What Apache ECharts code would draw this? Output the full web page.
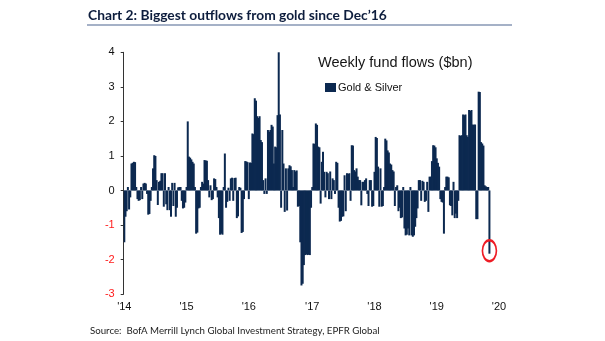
<!DOCTYPE html>
<html>
<head>
<meta charset="utf-8">
<script src="https://cdn.jsdelivr.net/npm/echarts@6/dist/echarts.min.js"></script>
<style>
  html, body { margin: 0; padding: 0; background: #ffffff; }
  #chart { width: 605px; height: 341px; }
</style>
</head>
<body>
<div id="chart"></div>
<script>
// Weekly gold & silver fund flows, $bn (one value per Friday, from 3 Jan 2014)
const flows2014 = [
  -1.5, -0.76, -0.6, 0.1, -0.55, -0.2, 0.78, 0.8, 0.83, 0.82, 0.1, -0.25, -0.3,
  -0.28, 0.1, -0.25, 0.2, 0.22, 0.2, -0.1, -0.7, -0.68, -0.3, 0.1, 0.64, 1.02,
  1.0, 0.3, -0.42, 0.25, 0.28, 0.5, 0.5, -0.47, 0.5, -0.4, -0.57, 0.1, -0.57,
  -0.76, 0.22, -0.45, 0.22, -0.76, -0.5, 0.09, 0.1, 0.1, -0.3, -0.52, -0.5, -0.35
];
const flows2015 = [
  0.1, 2.0, 0.98, 0.95, 0.9, 0.83, 0.78, 0.1, -1.25, -1.22, -0.52, -0.5, 0.1,
  0.25, 0.2, 0.88, 0.87, 0.86, 0.3, -0.2, 0.15, -0.28, -0.25, 0.35, 0.33, 0.1,
  -0.2, -0.8, -1.28, -1.25, -1.28, 0.1, 1.07, -0.5, -0.33, 0.08, -0.3, 0.35,
  0.37, -0.3, 0.36, 0.37, -0.8, -0.75, 0.1, 0.08, -1.23, -1.2, -0.25, 0.85, 0.84, 0.82
];
const flows2016 = [
  -0.25, 0.81, 0.8, 1.65, 1.63, 2.67, 2.6, 2.15, 2.1, 2.15, 1.46, 1.4, 0.3, -0.1,
  0.35, -0.1, 1.75, 1.7, 1.75, 1.9, 1.85, 0.78, 1.27, 1.25, 2.18, 4.0, 2.2, -0.5,
  1.75, 0.78, -0.62, 0.64, -0.58, 0.64, 0.73, 0.7, 0.59, 0.1, 0.59, 0.55, 0.58,
  -0.47, -0.45, -1.5, -2.75, -2.7, -2.16, -1.87, -1.85, -1.87, -1.86, -1.87, -0.5
];
const flows2017 = [
  0.1, 1.36, 1.35, 1.94, 1.9, 1.27, 1.25, -0.38, 0.83, 1.12, 0.54, -0.2, 0.54,
  0.5, -0.25, 0.55, -0.25, 0.35, 0.3, -0.1, 0.83, 0.8, -0.5, -0.9, -0.88, -0.76,
  -0.75, 0.44, -0.6, 0.5, 0.48, 0.5, -0.3, 1.31, 1.3, 0.59, 0.55, 0.64, 0.4, 0.3,
  0.3, -0.43, 0.25, 0.25, 0.3, 0.35, -0.1, -0.45, 0.3, 0.3, -0.47, -0.45
];
const flows2018 = [
  0.54, 1.55, 1.52, 0.69, -0.47, 0.64, -0.47, -0.45, 0.1, 1.5, 1.45, 1.16, 1.1,
  0.78, 0.75, 0.59, 0.55, -0.45, 0.1, 0.15, -0.6, -0.5, -0.8, -0.78, 0.1, -1.1,
  -1.3, -1.28, -1.1, -1.3, 0.1, -1.3, -1.34, -1.3, -1.05, -0.8, -0.52, 0.3, 0.3,
  -0.3, 0.28, 0.25, -0.33, -0.3, 0.25, -0.62, 0.4, 0.4, 0.85, 1.31, 1.3, 1.25
];
const flows2019 = [
  0.93, 0.8, 0.69, -0.25, -0.33, -0.35, -1.25, 0.1, 0.4, 0.4, 0.38, -0.43, -0.45,
  -0.72, 0.25, -0.8, -0.67, -0.8, -0.3, 1.6, 1.58, 1.6, 2.2, 2.18, 2.2, 1.6, 1.55,
  2.33, 2.3, 2.33, 1.91, 1.9, 1.91, -0.83, -0.83, 2.86, 2.85, 1.4, 1.36, 1.3,
  0.15, 0.12, 0.1, 0.1, -1.83
];

const seriesName = 'Gold & Silver';
const chartTitle = 'Chart 2: Biggest outflows from gold since Dec\u201916';
const panelTitle = 'Weekly fund flows ($bn)';
const sourceNote = 'Source:  BofA Merrill Lynch Global Investment Strategy, EPFR Global';
const yTicks = [-3, -2, -1, 0, 1, 2, 3, 4];

const flows = [].concat(flows2014, flows2015, flows2016, flows2017, flows2018, flows2019);

// Weekly calendar from the first Friday of 2014 to the first Friday of 2020
const firstWeek = Date.UTC(2014, 0, 3);
const lastWeek = Date.UTC(2020, 0, 3);
const weeks = [];
for (let t = firstWeek; t <= lastWeek; t += 7 * 86400000) {
  weeks.push(new Date(t).toISOString().slice(0, 10));
}
const values = weeks.map((d, i) => (i < flows.length ? flows[i] : null));
const lastIdx = flows.length - 1;

const isYearStart = (d) => d.slice(5, 7) === '01' && Number(d.slice(8, 10)) <= 7;

const chart = echarts.init(document.getElementById('chart'), null, { renderer: 'canvas' });

chart.setOption({
  animation: false,
  backgroundColor: '#ffffff',
  title: [
    {
      text: chartTitle,
      left: 88, top: 9, padding: 0,
      textStyle: { fontFamily: 'Lato', fontWeight: 'bold', fontSize: 13.8, color: '#0d1d3d' }
    },
    {
      text: panelTitle,
      left: 318, top: 55, padding: 0,
      textStyle: { fontFamily: 'Liberation Sans', fontWeight: 'normal', fontSize: 14.5, color: '#151515' }
    },
    {
      text: sourceNote,
      left: 90, top: 326, padding: 0,
      textStyle: { fontFamily: 'Lato', fontWeight: 'normal', fontSize: 9.7, color: '#222222' }
    }
  ],
  graphic: [
    {
      type: 'line',
      shape: { x1: 87, y1: 25, x2: 512, y2: 25 },
      style: { stroke: '#8797b5', lineWidth: 1.5 }
    }
  ],
  legend: {
    data: [seriesName],
    left: 325, top: 82,
    icon: 'rect',
    itemWidth: 11, itemHeight: 9,
    itemGap: 0,
    padding: 0,
    textStyle: { fontFamily: 'Liberation Sans', fontSize: 11, color: '#111111', padding: [0, 0, 0, -3] }
  },
  grid: { left: 123.7, right: 105.4, top: 52.3, bottom: 46.9, containLabel: false },
  xAxis: {
    type: 'category',
    data: weeks,
    boundaryGap: true,
    axisLine: { show: false },
    axisTick: { show: false },
    splitLine: { show: false },
    axisLabel: {
      interval: (i, d) => isYearStart(d),
      formatter: (d) => '\'' + d.slice(2, 4),
      fontFamily: 'Liberation Sans', fontSize: 11, color: '#111111', margin: 7
    }
  },
  yAxis: {
    type: 'value',
    min: yTicks[0], max: yTicks[yTicks.length - 1], interval: 1,
    axisLine: { show: true, lineStyle: { color: '#333333', width: 1 } },
    axisTick: { show: true, inside: false, length: 3, lineStyle: { color: '#333333' } },
    splitLine: { show: false },
    axisLabel: {
      fontFamily: 'Liberation Sans', fontSize: 11, margin: 9,
      color: (v) => (Number(v) < 0 ? '#ff1a1a' : '#111111')
    }
  },
  series: [
    {
      name: seriesName,
      type: 'bar',
      data: values,
      barWidth: 2,
      itemStyle: { color: '#0c2950' },
      markPoint: {
        silent: true,
        symbol: 'circle',
        symbolSize: [14, 21],
        symbolOffset: [0, -3],
        itemStyle: { color: 'rgba(0,0,0,0)', borderColor: '#ee1c25', borderWidth: 2 },
        label: { show: false },
        data: [{ coord: [lastIdx, flows[lastIdx]] }]
      }
    }
  ]
});
</script>
</body>
</html>
